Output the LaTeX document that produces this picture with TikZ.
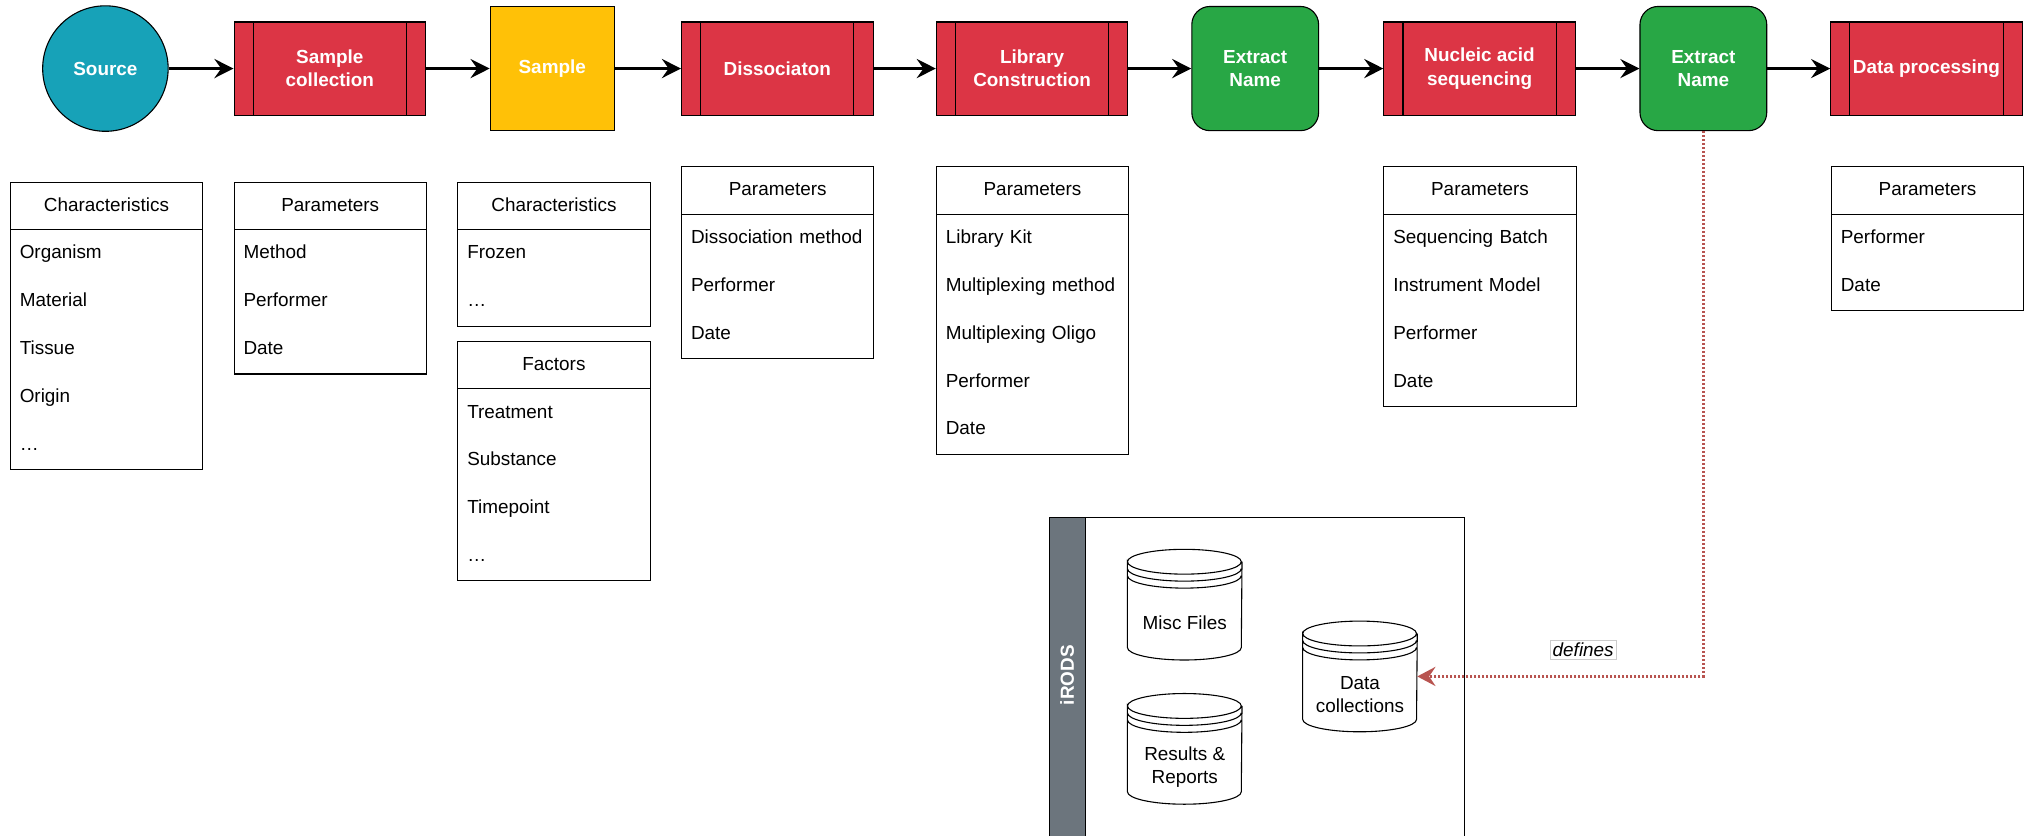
\documentclass[tikz,border=0pt]{standalone}
\usepackage{fontspec}
\setsansfont{Liberation Sans}
\usetikzlibrary{positioning,arrows.meta,calc}

\definecolor{srcblue}{HTML}{17A2B8}
\definecolor{procred}{HTML}{DC3545}
\definecolor{smpyellow}{HTML}{FFC107}
\definecolor{extgreen}{HTML}{28A745}
\definecolor{irodsgray}{HTML}{6C757D}
\definecolor{defred}{HTML}{B85450}

\begin{document}
\begin{tikzpicture}[x=0.025cm,y=-0.025cm,>={Stealth[length=10.5pt,width=10.5pt,inset=3.7pt]},
    every node/.style={font=\fontsize{10.4}{12.8}\sffamily},
    bold/.style={font=\fontsize{10.4}{12.8}\sffamily\bfseries,text=white},
    flow/.style={->,line width=1.5pt},
    step box/.style={draw,line width=0.6pt,bold,align=center,inner sep=0},
    process/.style={step box,fill=procred,minimum width=3.7cm,minimum height=1.8cm,
      path picture={\draw[line width=0.6pt]
        ([xshift=0.37cm]path picture bounding box.north west) -- ([xshift=0.37cm]path picture bounding box.south west)
        ([xshift=-0.37cm]path picture bounding box.north east) -- ([xshift=-0.37cm]path picture bounding box.south east);}},
    extract/.style={step box,fill=extgreen,rounded corners=0.35cm,minimum width=2.45cm,minimum height=2.4cm},
    thead/.style={minimum width=3.7cm,minimum height=0.9cm,anchor=north west,inner sep=0,text height=0.75em,text depth=0.2em},
    trow/.style={minimum width=3.7cm,minimum height=0.925cm,text width=3.35cm,align=left,anchor=north west,inner sep=0,text height=0.75em,text depth=0.2em},
    tbox/.style={line width=0.6pt},
    store/.style={minimum width=2.2cm,minimum height=2.125cm,inner sep=0},
    storelbl/.style={align=center,inner sep=0},
    defarrow/.style={-{Stealth[length=10pt,width=10.5pt,inset=3.5pt]},draw=defred,line width=1.8pt,dash pattern=on 1.1pt off 1.1pt},
    deflbl/.style={draw=gray!40,solid,line width=0.4pt,fill=white,text=black,inner sep=1.2pt,
      font=\fontsize{10.4}{12.8}\sffamily\itshape}]

    \useasboundingbox (0,0) rectangle (1568,646);

    % main flow
    \node[step box,circle,fill=srcblue,minimum size=2.425cm] (source) at (81.5,53) {Source};
    \node[process] (sc) at (255,53) {Sample\\collection};
    \node[step box,fill=smpyellow,minimum width=2.4cm,minimum height=2.4cm] (sample) at (427,53) {Sample};
    \node[process] (dis) at (601,53) {Dissociaton};
    \node[process] (lib) at (798,53) {Library\\Construction};
    \node[extract] (ext1) at (970.5,53) {Extract\\Name};
    \node[process] (seq) at (1144,53) {Nucleic acid\\sequencing};
    \node[extract] (ext2) at (1317,53) {Extract\\Name};
    \node[process] (proc) at (1489.5,53) {Data processing};

    \draw[flow] (source) -- (sc);
    \draw[flow] (sc) -- (sample);
    \draw[flow] (sample) -- (dis);
    \draw[flow] (dis) -- (lib);
    \draw[flow] (lib) -- (ext1);
    \draw[flow] (ext1) -- (seq);
    \draw[flow] (seq) -- (ext2);
    \draw[flow] (ext2) -- (proc);

    % tables
    \node[thead] (chsrc) at (8,141) {Characteristics};
    \foreach \r [count=\i] in {Organism,Material,Tissue,Origin,…}
        \node[trow] (chsrc-\i) at ($(chsrc.south west)+(0,{37*(\i-1)})$) {\r};
    \draw[tbox] (chsrc.north west) rectangle (chsrc-5.south east) (chsrc.south west) -- (chsrc.south east);

    \node[thead] (parsc) at (181,141) {Parameters};
    \foreach \r [count=\i] in {Method,Performer,Date}
        \node[trow] (parsc-\i) at ($(parsc.south west)+(0,{37*(\i-1)})$) {\r};
    \draw[tbox] (parsc.north west) rectangle (parsc-3.south east) (parsc.south west) -- (parsc.south east);

    \node[thead] (chsmp) at (354,141) {Characteristics};
    \foreach \r [count=\i] in {Frozen,…}
        \node[trow] (chsmp-\i) at ($(chsmp.south west)+(0,{37*(\i-1)})$) {\r};
    \draw[tbox] (chsmp.north west) rectangle (chsmp-2.south east) (chsmp.south west) -- (chsmp.south east);

    \node[thead] (facsmp) at (354,264) {Factors};
    \foreach \r [count=\i] in {Treatment,Substance,Timepoint,…}
        \node[trow] (facsmp-\i) at ($(facsmp.south west)+(0,{37*(\i-1)})$) {\r};
    \draw[tbox] (facsmp.north west) rectangle (facsmp-4.south east) (facsmp.south west) -- (facsmp.south east);

    \node[thead] (pardis) at (527,129) {Parameters};
    \foreach \r [count=\i] in {Dissociation method,Performer,Date}
        \node[trow] (pardis-\i) at ($(pardis.south west)+(0,{37*(\i-1)})$) {\r};
    \draw[tbox] (pardis.north west) rectangle (pardis-3.south east) (pardis.south west) -- (pardis.south east);

    \node[thead] (parlib) at (724,129) {Parameters};
    \foreach \r [count=\i] in {Library Kit,Multiplexing method,Multiplexing Oligo,Performer,Date}
        \node[trow] (parlib-\i) at ($(parlib.south west)+(0,{37*(\i-1)})$) {\r};
    \draw[tbox] (parlib.north west) rectangle (parlib-5.south east) (parlib.south west) -- (parlib.south east);

    \node[thead] (parseq) at (1070,129) {Parameters};
    \foreach \r [count=\i] in {Sequencing Batch,Instrument Model,Performer,Date}
        \node[trow] (parseq-\i) at ($(parseq.south west)+(0,{37*(\i-1)})$) {\r};
    \draw[tbox] (parseq.north west) rectangle (parseq-4.south east) (parseq.south west) -- (parseq.south east);

    \node[thead] (parproc) at (1416,129) {Parameters};
    \foreach \r [count=\i] in {Performer,Date}
        \node[trow] (parproc-\i) at ($(parproc.south west)+(0,{37*(\i-1)})$) {\r};
    \draw[tbox] (parproc.north west) rectangle (parproc-2.south east) (parproc.south west) -- (parproc.south east);

    % iRODS
    \node[draw,line width=0.6pt,minimum width=8.025cm,minimum height=6.6cm,anchor=north west,inner sep=0] (irods) at (811,400) {};
    \node[draw,line width=0.6pt,fill=irodsgray,minimum width=0.7cm,minimum height=6.6cm,anchor=north west,inner sep=0] (irodsbar) at (811,400) {};
    \node[bold,rotate=90] (irodslbl) at (825,522) {iRODS};

    \node[store] (misc) at (916,467.5) {};
    \node[store] (res) at (916,579) {};
    \node[store] (data) at (1051.5,523) {};
    \foreach \s in {misc,res,data}
        \draw[line width=0.6pt] ([yshift=-0.24cm]\s.north west) arc[start angle=180,end angle=-180,x radius=1.1cm,y radius=0.24cm]
            -- ([yshift=0.24cm]\s.south west) arc[start angle=180,end angle=360,x radius=1.1cm,y radius=0.24cm]
            -- ([yshift=-0.24cm]\s.north east)
            ([yshift=-0.375cm]\s.north west) arc[start angle=180,end angle=360,x radius=1.1cm,y radius=0.24cm]
            ([yshift=-0.51cm]\s.north west) arc[start angle=180,end angle=360,x radius=1.1cm,y radius=0.24cm];
    \node[storelbl] (misclbl) at ([yshift=-0.35cm]misc.center) {Misc Files};
    \node[storelbl] (reslbl) at ([yshift=-0.35cm]res.center) {Results \&\\Reports};
    \node[storelbl] (datalbl) at ([yshift=-0.35cm]data.center) {Data\\collections};

    \draw[defarrow] (ext2.south) |- (data.east) node[deflbl,pos=0.71,above=0.33cm] (deftxt) {defines};
\end{tikzpicture}
\end{document}
